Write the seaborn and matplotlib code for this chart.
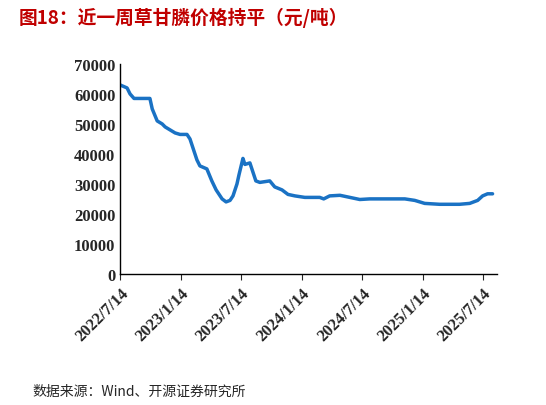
import matplotlib
matplotlib.use("Agg")
import matplotlib.pyplot as plt
import seaborn as sns
import pandas as pd

dates = ["2022-07-14","2022-08-04","2022-08-13","2022-08-25","2022-10-12","2022-10-19","2022-11-03",
         "2022-11-18","2022-11-27","2022-12-27","2023-01-11","2023-02-01","2023-02-10","2023-02-19",
         "2023-03-03","2023-03-12","2023-04-02","2023-04-17","2023-04-30","2023-05-18","2023-05-30",
         "2023-06-11","2023-06-20","2023-07-02","2023-07-08","2023-07-20","2023-07-26","2023-08-10",
         "2023-08-28","2023-09-09","2023-10-09","2023-10-24","2023-11-15","2023-12-03","2023-12-24",
         "2024-01-23","2024-03-08","2024-03-20","2024-04-07","2024-05-08","2024-06-07","2024-07-07",
         "2024-08-06","2024-11-20","2024-12-20","2025-01-19","2025-03-05","2025-05-04","2025-06-04",
         "2025-06-28","2025-07-13","2025-07-28","2025-08-12"]
prices = [63000,62000,60000,58500,58500,55000,51000,
          50000,49000,47000,46500,46500,45000,42000,
          38000,36000,35000,31000,28000,25000,24000,
          24500,26000,30000,33000,38500,36500,37000,
          31000,30500,31000,29000,28000,26500,26000,
          25500,25500,25000,26000,26200,25500,24800,
          25000,25000,24500,23500,23200,23200,23500,
          24500,26000,26700,26700]
tick_dates = ["2022-07-14","2023-01-14","2023-07-14","2024-01-14","2024-07-14","2025-01-14","2025-07-14"]
tick_labels = ["2022/7/14","2023/1/14","2023/7/14","2024/1/14","2024/7/14","2025/1/14","2025/7/14"]
y_ticks = [0,10000,20000,30000,40000,50000,60000,70000]

df = pd.DataFrame({"date": pd.to_datetime(dates), "price": prices})

sns.set_style("white")
plt.rcParams['font.family'] = ['Liberation Serif', 'Noto Sans CJK SC']
fig = plt.figure(figsize=(5.46, 4.06), dpi=100)
ax = fig.add_axes([0.22, 0.323, 0.69, 0.517])
sns.lineplot(data=df, x="date", y="price", ax=ax, color="#1a72c4", linewidth=2.5)
ax.set_xlim(pd.Timestamp("2022-07-14"), pd.Timestamp("2025-08-25"))
ax.set_ylim(0, 70000)
ax.set_yticks(y_ticks)
ax.set_yticklabels([str(v) for v in y_ticks], fontsize=12, fontweight='bold')
ax.set_xticks(pd.to_datetime(tick_dates))
ax.set_xticklabels(tick_labels, rotation=45, ha='right', rotation_mode='anchor', fontsize=12, fontweight='bold')
ax.set_xlabel(""); ax.set_ylabel("")
for s in ["top", "right"]:
    ax.spines[s].set_visible(False)
for s in ["left", "bottom"]:
    ax.spines[s].set_color("black"); ax.spines[s].set_linewidth(1)
ax.tick_params(axis='x', length=4, direction='out', bottom=True, pad=4)
ax.tick_params(axis='y', length=0)
fig.text(0.035, 0.955, "图18：近一周草甘膦价格持平（元/吨）", color="#c00000", fontsize=13.5,
         fontweight='bold', family=['Noto Sans CJK SC', 'DejaVu Sans'], va='center')
fig.text(0.06, 0.035, "数据来源：Wind、开源证券研究所", fontsize=10, va='center',
         family=['Noto Sans CJK SC', 'DejaVu Sans'])
fig.savefig("out.png", dpi=100)
